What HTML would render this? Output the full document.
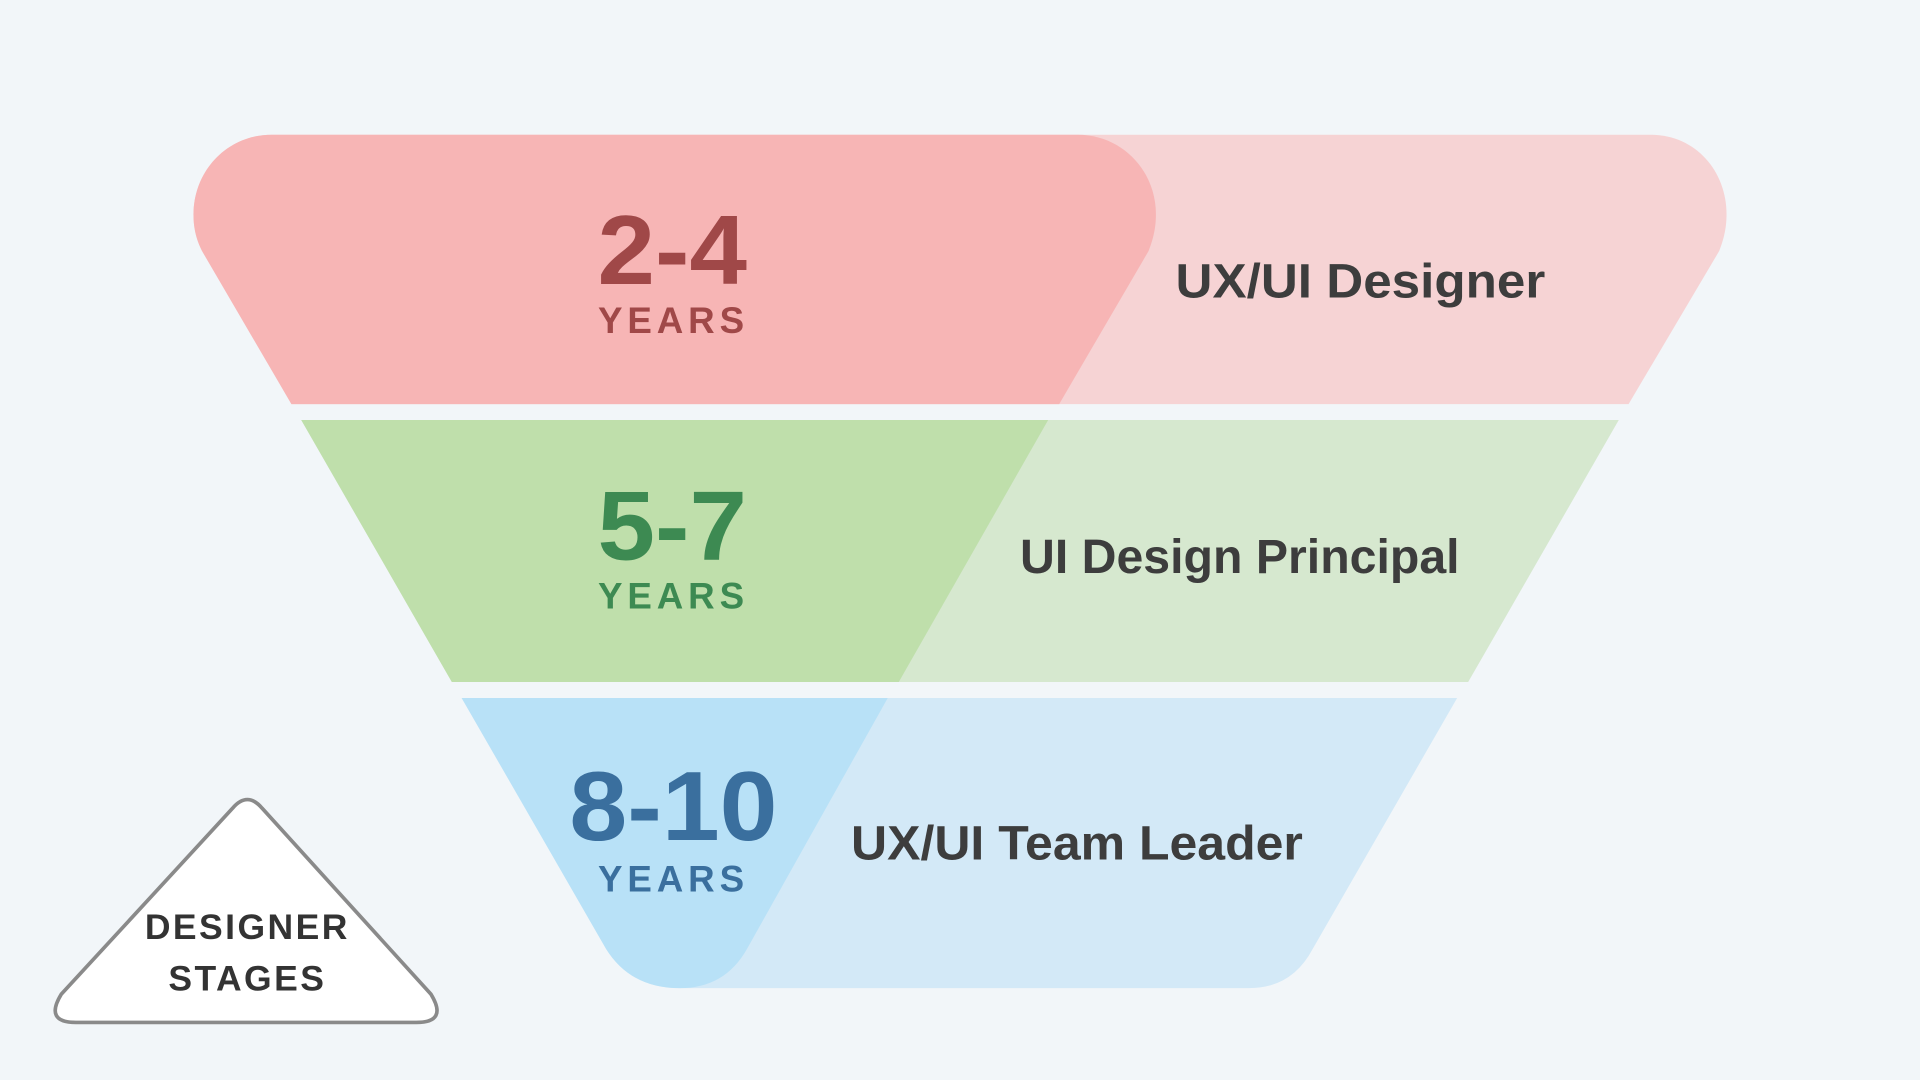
<!DOCTYPE html>
<html><head><meta charset="utf-8"><style>
html,body{margin:0;padding:0;background:#f2f6f9;}
svg{display:block}
text{font-family:"Liberation Sans",sans-serif;font-weight:bold}
</style></head><body>
<svg width="1920" height="1080" viewBox="0 0 1568 882" xmlns="http://www.w3.org/2000/svg">
<rect width="1568" height="882" fill="#f2f6f9"/>
<path d="M222,110 L1348,110 C1385,110 1410,140 1410,175 C1410,188 1407,197 1404,205 L1330,330 L238,330 L165,205 C161,197 158,188 158,175 C158,140 185,110 222,110 Z" fill="#f6d3d4"/>
<path d="M222,110 L880,110 C917,110 944,140 944,175 C944,188 941,197 938,205 L865,330 L238,330 L165,205 C161,197 158,188 158,175 C158,140 185,110 222,110 Z" fill="#f7b5b5"/>
<path d="M246,343 L1322,343 L1199,557 L369,557 Z" fill="#d6e8cf"/>
<path d="M246,343 L856,343 L734,557 L369,557 Z" fill="#bfdfab"/>
<path d="M377,570 L1190,570 L1072,775 Q1055,807 1020,807 L555,807 Q515,807 495,775 Z" fill="#d3e9f7"/>
<path d="M377,570 L725,570 L610,775 Q592,807 555,807 Q515,807 495,775 Z" fill="#b8e1f7"/>

<text x="488" y="232" textLength="122" lengthAdjust="spacingAndGlyphs" font-size="80" fill="#a04848">2-4</text>
<text x="550" y="272" text-anchor="middle" font-size="30" letter-spacing="4" fill="#a04848">YEARS</text>
<text x="960" y="243" textLength="302" lengthAdjust="spacingAndGlyphs" font-size="39" fill="#3d3d3d">UX/UI Designer</text>

<text x="488" y="457" textLength="122" lengthAdjust="spacingAndGlyphs" font-size="80" fill="#3d8a52">5-7</text>
<text x="550" y="497" text-anchor="middle" font-size="30" letter-spacing="4" fill="#3d8a52">YEARS</text>
<text x="833" y="468" textLength="359" lengthAdjust="spacingAndGlyphs" font-size="39" fill="#3d3d3d">UI Design Principal</text>

<text x="465" y="686" textLength="170" lengthAdjust="spacingAndGlyphs" font-size="80" fill="#3a6f9e">8-10</text>
<text x="550" y="728" text-anchor="middle" font-size="30" letter-spacing="4" fill="#3a6f9e">YEARS</text>
<text x="695" y="702" textLength="369" lengthAdjust="spacingAndGlyphs" font-size="39" fill="#3d3d3d">UX/UI Team Leader</text>

<path d="M190,660 Q202,646 214,660 L352,812 Q366,835 340,835 L62,835 Q36,835 50,812 Z" fill="#ffffff" stroke="#8a8a8a" stroke-width="3" stroke-linejoin="round"/>
<text x="202" y="767" text-anchor="middle" font-size="29" letter-spacing="2" fill="#333">DESIGNER</text>
<text x="202" y="809" text-anchor="middle" font-size="29" letter-spacing="2" fill="#333">STAGES</text>
</svg>
</body></html>
